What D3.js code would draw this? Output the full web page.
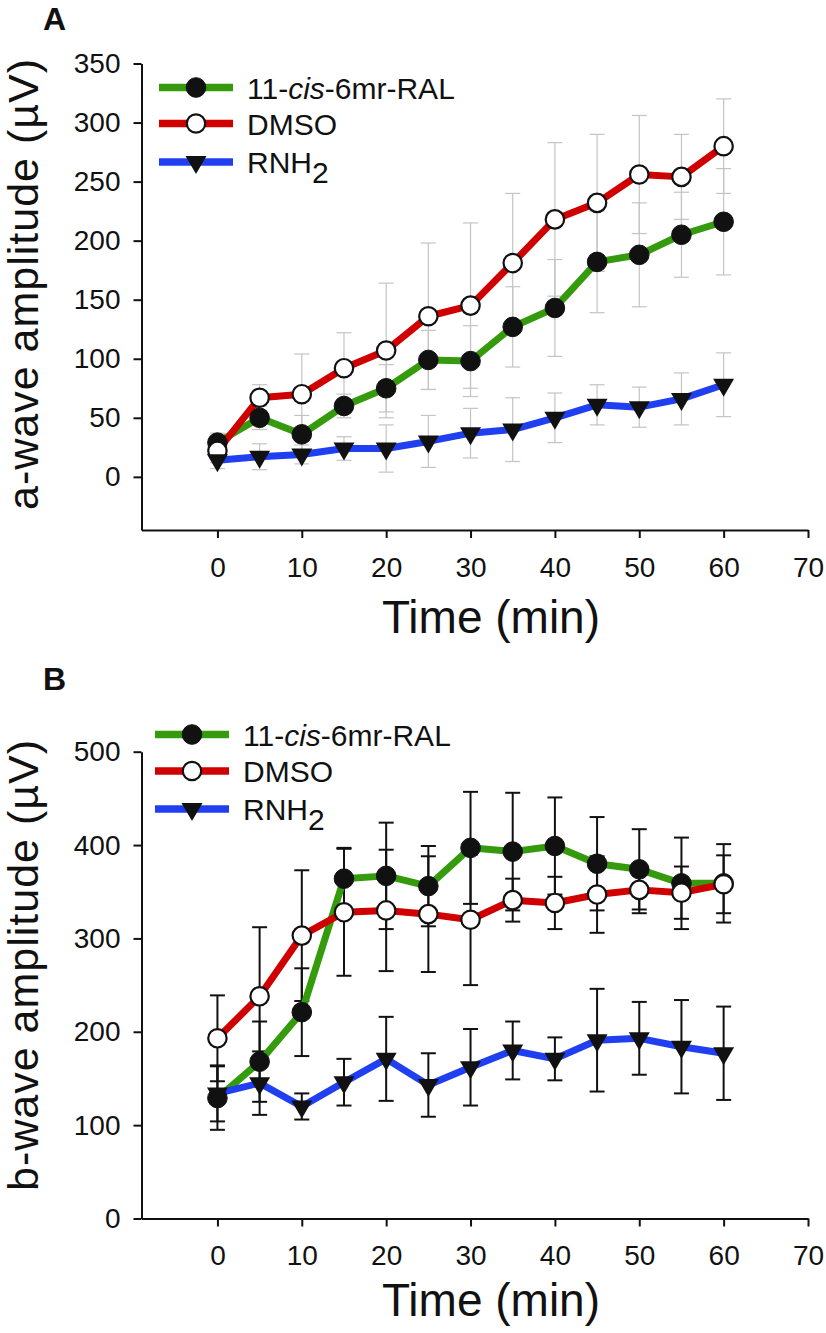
<!DOCTYPE html>
<html><head><meta charset="utf-8">
<script src="https://cdn.jsdelivr.net/npm/d3@7"></script>
<style>
body{margin:0;background:#fff}
svg{display:block}
text{font-family:"Liberation Sans",Arial,Helvetica,sans-serif;fill:#111}
</style>
</head><body>
<svg id="c" width="826" height="1333"></svg>
<script>
// ---------- data ----------
const times = [0, 5, 10, 15, 20, 25, 30, 35, 40, 45, 50, 55, 60];
const seriesNames = ["11-cis-6mr-RAL", "DMSO", "RNH2"];

// Panel A: a-wave amplitude (µV)
const aRal     = [29, 50, 36, 60, 75, 99, 98, 127, 143, 182, 188, 205, 216];
const aRalErr  = [8, 10, 16, 10, 20, 25, 30, 34, 41, 43, 44, 36, 45];
const aDmso    = [22, 67, 70, 92, 107, 136, 145, 181, 218, 232, 256, 254, 280];
const aDmsoErr = [10, 11, 34, 30, 57, 62, 70, 59, 65, 58, 50, 36, 40];
const aRnh2    = [14, 17, 19, 24, 24, 30, 37, 40, 50, 61, 59, 66, 78];
const aRnh2Err = [7, 11, 8, 10, 20, 22, 21, 27, 21, 17, 17, 22, 27];

// Panel B: b-wave amplitude (µV)
const bRal     = [129, 168, 221, 364, 367, 356, 397, 393, 399, 380, 374, 359, 359];
const bRalErr  = [34, 43, 47, 33, 57, 43, 60, 63, 52, 50, 43, 49, 42];
const bDmso    = [193, 238, 303, 328, 330, 326, 320, 341, 338, 347, 352, 349, 358];
const bDmsoErr = [46, 74, 70, 68, 65, 62, 70, 23, 28, 41, 25, 28, 31];
const bRnh2    = [134, 145, 120, 146, 171, 143, 162, 180, 171, 191, 193, 184, 177];
const bRnh2Err = [30, 34, 14, 25, 45, 34, 41, 31, 23, 55, 39, 50, 50];

const xTicks = [0, 10, 20, 30, 40, 50, 60, 70];
const aYTicks = [0, 50, 100, 150, 200, 250, 300, 350];
const bYTicks = [0, 100, 200, 300, 400, 500];

// ---------- styling ----------
const colors = ["#359a0c", "#d00000", "#1f3ff0"];
const markers = ["filled", "open", "triangle"];
const svg = d3.select("#c");

function drawMarker(g, type, x, y) {
  if (type === "filled") {
    g.append("circle").attr("cx", x).attr("cy", y).attr("r", 9.8)
      .attr("fill", "#111").attr("stroke", "#111").attr("stroke-width", 1);
  } else if (type === "open") {
    g.append("circle").attr("cx", x).attr("cy", y).attr("r", 9.2)
      .attr("fill", "#fff").attr("stroke", "#111").attr("stroke-width", 2.2);
  } else {
    g.append("path").attr("transform", `translate(${x},${y})`)
      .attr("d", "M-10.5,-6L10.5,-6L0,12Z").attr("fill", "#111");
  }
}

function panel(cfg) {
  const x = d3.scaleLinear().domain([-9, 70]).range([141.5, 808]);
  const y = d3.scaleLinear().domain(cfg.yDomain).range(cfg.yRange);
  const g = svg.append("g");

  // axes
  const ax = g.append("g").attr("transform", `translate(0,${cfg.yRange[0]})`)
    .call(d3.axisBottom(x).tickValues(xTicks).tickSize(8).tickSizeOuter(0).tickPadding(19));
  const ay = g.append("g").attr("transform", `translate(${x.range()[0]},0)`)
    .call(d3.axisLeft(y).tickValues(cfg.yTicks).tickSize(8).tickSizeOuter(0).tickPadding(13));
  [ax, ay].forEach(a => {
    a.select(".domain").attr("stroke", "#111").attr("stroke-width", 2);
    a.selectAll(".tick line").attr("stroke", "#111").attr("stroke-width", 2);
    a.selectAll(".tick text").attr("font-size", 28).attr("fill", "#111")
      .attr("font-family", '"Liberation Sans",Arial,sans-serif');
  });

  // axis titles
  g.append("text").attr("x", 491).attr("y", cfg.xTitleY).attr("text-anchor", "middle")
    .attr("font-size", 46).text("Time (min)");
  g.append("text").attr("transform", `translate(38,${cfg.yTitleCenter}) rotate(-90)`)
    .attr("text-anchor", "middle").attr("font-size", 43).attr("letter-spacing", 1)
    .text(cfg.yTitle);
  g.append("text").attr("x", 43).attr("y", cfg.letterY).attr("font-size", 32)
    .attr("font-weight", "bold").text(cfg.letter);

  // error bars
  const eg = g.append("g");
  cfg.series.forEach(s => {
    times.forEach((t, i) => {
      const cx = x(t), y1 = y(s.values[i] + s.err[i]), y2 = y(s.values[i] - s.err[i]);
      const st = (sel) => sel.attr("stroke", cfg.errColor).attr("stroke-width", cfg.errWidth);
      st(eg.append("line").attr("x1", cx).attr("x2", cx).attr("y1", y1).attr("y2", y2));
      st(eg.append("line").attr("x1", cx - 7.5).attr("x2", cx + 7.5).attr("y1", y1).attr("y2", y1));
      st(eg.append("line").attr("x1", cx - 7.5).attr("x2", cx + 7.5).attr("y1", y2).attr("y2", y2));
    });
  });

  // lines
  const line = d3.line().x((d, i) => x(times[i])).y(d => y(d));
  cfg.series.forEach((s, k) => {
    g.append("path").datum(s.values).attr("d", line).attr("fill", "none")
      .attr("stroke", colors[k]).attr("stroke-width", 7).attr("stroke-linejoin", "round");
  });
  // markers
  cfg.series.forEach((s, k) => {
    const mg = g.append("g");
    s.values.forEach((v, i) => drawMarker(mg, markers[k], x(times[i]), y(v)));
  });

  // legend
  const L = cfg.legend;
  seriesNames.forEach((name, k) => {
    const ry = L.y0 + L.dy[k];
    g.append("line").attr("x1", L.x1).attr("x2", L.x2).attr("y1", ry).attr("y2", ry)
      .attr("stroke", colors[k]).attr("stroke-width", 7.5);
    drawMarker(g, markers[k], (L.x1 + L.x2) / 2, ry);
    const t = g.append("text").attr("x", L.tx).attr("y", ry + 11).attr("font-size", 30);
    if (k === 0) {
      t.append("tspan").text("11-");
      t.append("tspan").attr("font-style", "italic").text("cis");
      t.append("tspan").text("-6mr-RAL");
    } else if (k === 2) {
      t.append("tspan").text("RNH");
      t.append("tspan").attr("dy", 10).text("2");
    } else {
      t.text(name);
    }
  });
}

panel({
  letter: "A", letterY: 30,
  yDomain: [-45, 350], yRange: [530, 63.5], yTicks: aYTicks,
  yTitle: "a-wave amplitude (\u00B5V)", yTitleCenter: 284, xTitleY: 633,
  errColor: "#c4c4c4", errWidth: 1.2,
  series: [
    {values: aRal, err: aRalErr},
    {values: aDmso, err: aDmsoErr},
    {values: aRnh2, err: aRnh2Err}
  ],
  legend: {x1: 159, x2: 233, tx: 247, y0: 87.5, dy: [0, 36, 74.5]}
});

panel({
  letter: "B", letterY: 690,
  yDomain: [0, 500], yRange: [1218.5, 751.7], yTicks: bYTicks,
  yTitle: "b-wave amplitude (\u00B5V)", yTitleCenter: 965, xTitleY: 1316,
  errColor: "#111", errWidth: 2,
  series: [
    {values: bRal, err: bRalErr},
    {values: bDmso, err: bDmsoErr},
    {values: bRnh2, err: bRnh2Err}
  ],
  legend: {x1: 155, x2: 229, tx: 243, y0: 734.5, dy: [0, 36.5, 74.5]}
});
</script>
</body></html>
